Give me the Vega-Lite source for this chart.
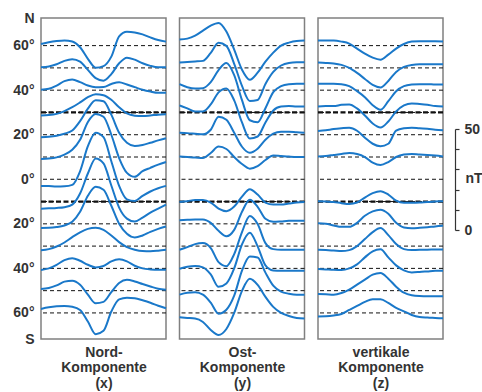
{
"$schema": "https://vega.github.io/schema/vega-lite/v6.json",
"background": "white",
"padding": {"left": 12, "top": 11, "right": 0, "bottom": 0},
"config": {"view": {"stroke": "#808080", "strokeWidth": 1.5}, "font": "Liberation Sans"},
"spacing": 13.5,
"bounds": "flush",
"align": "none",
"datasets": {
"base": [{"lat":60},{"lat":50},{"lat":40},{"lat":30},{"lat":20},{"lat":10},{"lat":0},{"lat":-10},{"lat":-20},{"lat":-30},{"lat":-40},{"lat":-50},{"lat":-60}],
"bar": [{"nT":0},{"nT":50}],
"nord": [
{"lat":60,"h":0,"nT":0.8},{"lat":60,"h":1.5,"nT":1.7},{"lat":60,"h":3,"nT":2.3},{"lat":60,"h":4.5,"nT":2.6},{"lat":60,"h":6,"nT":2.1},{"lat":60,"h":7.5,"nT":-0.8},{"lat":60,"h":9,"nT":-6.6},{"lat":60,"h":10.5,"nT":-11},{"lat":60,"h":12,"nT":-10.2},{"lat":60,"h":13.5,"nT":-5.5},{"lat":60,"h":15,"nT":4.6},{"lat":60,"h":16.5,"nT":6.9},{"lat":60,"h":18,"nT":6.6},{"lat":60,"h":19.5,"nT":5.6},{"lat":60,"h":21,"nT":4.1},{"lat":60,"h":22.5,"nT":2.8},{"lat":60,"h":24,"nT":2.0},
{"lat":50,"h":0,"nT":0.3},{"lat":50,"h":1.5,"nT":0.7},{"lat":50,"h":3,"nT":1.8},{"lat":50,"h":4.5,"nT":3.5},{"lat":50,"h":6,"nT":4.3},{"lat":50,"h":7.5,"nT":3.1},{"lat":50,"h":9,"nT":-1},{"lat":50,"h":10.5,"nT":-5.1},{"lat":50,"h":12,"nT":-6.4},{"lat":50,"h":13.5,"nT":-3.1},{"lat":50,"h":15,"nT":2.3},{"lat":50,"h":16.5,"nT":5.1},{"lat":50,"h":18,"nT":4.1},{"lat":50,"h":19.5,"nT":2.3},{"lat":50,"h":21,"nT":1.0},{"lat":50,"h":22.5,"nT":0.3},{"lat":50,"h":24,"nT":0.3},
{"lat":40,"h":0,"nT":0.2},{"lat":40,"h":1.5,"nT":0.7},{"lat":40,"h":3,"nT":2.3},{"lat":40,"h":4.5,"nT":4.5},{"lat":40,"h":6,"nT":5.3},{"lat":40,"h":7.5,"nT":4},{"lat":40,"h":9,"nT":2.3},{"lat":40,"h":10.5,"nT":1.5},{"lat":40,"h":12,"nT":1.6},{"lat":40,"h":13.5,"nT":3.1},{"lat":40,"h":15,"nT":4},{"lat":40,"h":16.5,"nT":2.8},{"lat":40,"h":18,"nT":1.5},{"lat":40,"h":19.5,"nT":0.2},{"lat":40,"h":21,"nT":-0.7},{"lat":40,"h":22.5,"nT":-1.3},{"lat":40,"h":24,"nT":-1.3},
{"lat":30,"h":0,"nT":-1.5},{"lat":30,"h":1.5,"nT":-1.3},{"lat":30,"h":3,"nT":-0.7},{"lat":30,"h":4.5,"nT":0.7},{"lat":30,"h":6,"nT":2.6},{"lat":30,"h":7.5,"nT":5},{"lat":30,"h":9,"nT":7.6},{"lat":30,"h":10.5,"nT":9.1},{"lat":30,"h":12,"nT":8.6},{"lat":30,"h":13.5,"nT":6.3},{"lat":30,"h":15,"nT":2.6},{"lat":30,"h":16.5,"nT":-0.5},{"lat":30,"h":18,"nT":-1.6},{"lat":30,"h":19.5,"nT":-1.8},{"lat":30,"h":21,"nT":-1.5},{"lat":30,"h":22.5,"nT":-1.1},{"lat":30,"h":24,"nT":-0.9},
{"lat":20,"h":0,"nT":-1.2},{"lat":20,"h":1.5,"nT":-1},{"lat":20,"h":3,"nT":-0.5},{"lat":20,"h":4.5,"nT":0.5},{"lat":20,"h":6,"nT":2.1},{"lat":20,"h":7.5,"nT":6.8},{"lat":20,"h":9,"nT":13},{"lat":20,"h":10.5,"nT":17.2},{"lat":20,"h":12,"nT":16.7},{"lat":20,"h":13.5,"nT":10},{"lat":20,"h":15,"nT":1},{"lat":20,"h":16.5,"nT":-4},{"lat":20,"h":18,"nT":-5.6},{"lat":20,"h":19.5,"nT":-5.1},{"lat":20,"h":21,"nT":-4},{"lat":20,"h":22.5,"nT":-2.8},{"lat":20,"h":24,"nT":-1.8},
{"lat":10,"h":0,"nT":-1},{"lat":10,"h":1.5,"nT":-0.8},{"lat":10,"h":3,"nT":-0.2},{"lat":10,"h":4.5,"nT":1.2},{"lat":10,"h":6,"nT":3.6},{"lat":10,"h":7.5,"nT":8.6},{"lat":10,"h":9,"nT":17.5},{"lat":10,"h":10.5,"nT":21.5},{"lat":10,"h":12,"nT":20.1},{"lat":10,"h":13.5,"nT":11.1},{"lat":10,"h":15,"nT":-0.5},{"lat":10,"h":16.5,"nT":-7.9},{"lat":10,"h":18,"nT":-9.9},{"lat":10,"h":19.5,"nT":-7.1},{"lat":10,"h":21,"nT":-5.4},{"lat":10,"h":22.5,"nT":-3.8},{"lat":10,"h":24,"nT":-2.5},
{"lat":0,"h":0,"nT":-3.3},{"lat":0,"h":1.5,"nT":-3.4},{"lat":0,"h":3,"nT":-3.6},{"lat":0,"h":4.5,"nT":-3.5},{"lat":0,"h":6,"nT":-2.8},{"lat":0,"h":7.5,"nT":4},{"lat":0,"h":9,"nT":16.5},{"lat":0,"h":10.5,"nT":23.2},{"lat":0,"h":12,"nT":21},{"lat":0,"h":13.5,"nT":9},{"lat":0,"h":15,"nT":-3.3},{"lat":0,"h":16.5,"nT":-10},{"lat":0,"h":18,"nT":-10.8},{"lat":0,"h":19.5,"nT":-8.3},{"lat":0,"h":21,"nT":-6.1},{"lat":0,"h":22.5,"nT":-4.5},{"lat":0,"h":24,"nT":-3.3},
{"lat":-10,"h":0,"nT":-3.6},{"lat":-10,"h":1.5,"nT":-3.4},{"lat":-10,"h":3,"nT":-3.2},{"lat":-10,"h":4.5,"nT":-2.8},{"lat":-10,"h":6,"nT":-1.5},{"lat":-10,"h":7.5,"nT":4},{"lat":-10,"h":9,"nT":14},{"lat":-10,"h":10.5,"nT":21.5},{"lat":-10,"h":12,"nT":19},{"lat":-10,"h":13.5,"nT":8},{"lat":-10,"h":15,"nT":-3},{"lat":-10,"h":16.5,"nT":-8.5},{"lat":-10,"h":18,"nT":-10},{"lat":-10,"h":19.5,"nT":-8},{"lat":-10,"h":21,"nT":-5.5},{"lat":-10,"h":22.5,"nT":-3.5},{"lat":-10,"h":24,"nT":-1.5},
{"lat":-20,"h":0,"nT":-2.1},{"lat":-20,"h":1.5,"nT":-2},{"lat":-20,"h":3,"nT":-1.6},{"lat":-20,"h":4.5,"nT":-0.8},{"lat":-20,"h":6,"nT":1},{"lat":-20,"h":7.5,"nT":6},{"lat":-20,"h":9,"nT":14},{"lat":-20,"h":10.5,"nT":18.5},{"lat":-20,"h":12,"nT":17},{"lat":-20,"h":13.5,"nT":9},{"lat":-20,"h":15,"nT":0},{"lat":-20,"h":16.5,"nT":-5},{"lat":-20,"h":18,"nT":-6.8},{"lat":-20,"h":19.5,"nT":-5.8},{"lat":-20,"h":21,"nT":-4},{"lat":-20,"h":22.5,"nT":-2.5},{"lat":-20,"h":24,"nT":-1.3},
{"lat":-30,"h":0,"nT":-2.1},{"lat":-30,"h":1.5,"nT":-1.5},{"lat":-30,"h":3,"nT":-0.2},{"lat":-30,"h":4.5,"nT":1.8},{"lat":-30,"h":6,"nT":4.5},{"lat":-30,"h":7.5,"nT":6.9},{"lat":-30,"h":9,"nT":8.6},{"lat":-30,"h":10.5,"nT":9.1},{"lat":-30,"h":12,"nT":8.1},{"lat":-30,"h":13.5,"nT":5.3},{"lat":-30,"h":15,"nT":2},{"lat":-30,"h":16.5,"nT":-0.5},{"lat":-30,"h":18,"nT":-1.8},{"lat":-30,"h":19.5,"nT":-2.5},{"lat":-30,"h":21,"nT":-2.6},{"lat":-30,"h":22.5,"nT":-2.3},{"lat":-30,"h":24,"nT":-1.8},
{"lat":-40,"h":0,"nT":-0.8},{"lat":-40,"h":1.5,"nT":0},{"lat":-40,"h":3,"nT":1.8},{"lat":-40,"h":4.5,"nT":4.1},{"lat":-40,"h":6,"nT":5.1},{"lat":-40,"h":7.5,"nT":3.8},{"lat":-40,"h":9,"nT":1.8},{"lat":-40,"h":10.5,"nT":0.5},{"lat":-40,"h":12,"nT":1.2},{"lat":-40,"h":13.5,"nT":3.5},{"lat":-40,"h":15,"nT":4.5},{"lat":-40,"h":16.5,"nT":3.5},{"lat":-40,"h":18,"nT":1.3},{"lat":-40,"h":19.5,"nT":0},{"lat":-40,"h":21,"nT":-0.5},{"lat":-40,"h":22.5,"nT":-0.7},{"lat":-40,"h":24,"nT":-0.7},
{"lat":-50,"h":0,"nT":0.8},{"lat":-50,"h":1.5,"nT":1.3},{"lat":-50,"h":3,"nT":2.6},{"lat":-50,"h":4.5,"nT":4.5},{"lat":-50,"h":6,"nT":5},{"lat":-50,"h":7.5,"nT":3},{"lat":-50,"h":9,"nT":-2},{"lat":-50,"h":10.5,"nT":-6.3},{"lat":-50,"h":12,"nT":-5.6},{"lat":-50,"h":13.5,"nT":-0.7},{"lat":-50,"h":15,"nT":3.8},{"lat":-50,"h":16.5,"nT":5.4},{"lat":-50,"h":18,"nT":4.6},{"lat":-50,"h":19.5,"nT":3.3},{"lat":-50,"h":21,"nT":2.1},{"lat":-50,"h":22.5,"nT":1},{"lat":-50,"h":24,"nT":0.5},
{"lat":-60,"h":0,"nT":2},{"lat":-60,"h":1.5,"nT":2.8},{"lat":-60,"h":3,"nT":3.3},{"lat":-60,"h":4.5,"nT":3.5},{"lat":-60,"h":6,"nT":3.1},{"lat":-60,"h":7.5,"nT":1.5},{"lat":-60,"h":9,"nT":-4.3},{"lat":-60,"h":10.5,"nT":-10.6},{"lat":-60,"h":12,"nT":-8.9},{"lat":-60,"h":13.5,"nT":0.7},{"lat":-60,"h":15,"nT":6.8},{"lat":-60,"h":16.5,"nT":7.6},{"lat":-60,"h":18,"nT":7.3},{"lat":-60,"h":19.5,"nT":6.3},{"lat":-60,"h":21,"nT":5.1},{"lat":-60,"h":22.5,"nT":3.6},{"lat":-60,"h":24,"nT":2.3}
],
"ost": [
{"lat":60,"h":0,"nT":3},{"lat":60,"h":1.5,"nT":3.5},{"lat":60,"h":3,"nT":5},{"lat":60,"h":4.5,"nT":7.5},{"lat":60,"h":6,"nT":10},{"lat":60,"h":7.5,"nT":11.3},{"lat":60,"h":9,"nT":7},{"lat":60,"h":10.5,"nT":-2},{"lat":60,"h":12,"nT":-12},{"lat":60,"h":13.5,"nT":-17},{"lat":60,"h":15,"nT":-13.5},{"lat":60,"h":16.5,"nT":-8},{"lat":60,"h":18,"nT":-3.5},{"lat":60,"h":19.5,"nT":0},{"lat":60,"h":21,"nT":1.5},{"lat":60,"h":22.5,"nT":2.3},{"lat":60,"h":24,"nT":2.5},
{"lat":50,"h":0,"nT":2.7},{"lat":50,"h":1.5,"nT":3},{"lat":50,"h":3,"nT":3.2},{"lat":50,"h":4.5,"nT":3.5},{"lat":50,"h":6,"nT":7.5},{"lat":50,"h":7.5,"nT":12.5},{"lat":50,"h":9,"nT":11},{"lat":50,"h":10.5,"nT":2},{"lat":50,"h":12,"nT":-9},{"lat":50,"h":13.5,"nT":-16.5},{"lat":50,"h":15,"nT":-16},{"lat":50,"h":16.5,"nT":-8},{"lat":50,"h":18,"nT":-2},{"lat":50,"h":19.5,"nT":1.2},{"lat":50,"h":21,"nT":2.5},{"lat":50,"h":22.5,"nT":2.8},{"lat":50,"h":24,"nT":2.8},
{"lat":40,"h":0,"nT":3},{"lat":40,"h":1.5,"nT":1.5},{"lat":40,"h":3,"nT":0.8},{"lat":40,"h":4.5,"nT":1},{"lat":40,"h":6,"nT":4},{"lat":40,"h":7.5,"nT":10},{"lat":40,"h":9,"nT":13.5},{"lat":40,"h":10.5,"nT":7.5},{"lat":40,"h":12,"nT":-5},{"lat":40,"h":13.5,"nT":-15},{"lat":40,"h":15,"nT":-16},{"lat":40,"h":16.5,"nT":-9},{"lat":40,"h":18,"nT":-1},{"lat":40,"h":19.5,"nT":2},{"lat":40,"h":21,"nT":3},{"lat":40,"h":22.5,"nT":3.2},{"lat":40,"h":24,"nT":3.2},
{"lat":30,"h":0,"nT":3.5},{"lat":30,"h":1.5,"nT":2},{"lat":30,"h":3,"nT":0.5},{"lat":30,"h":4.5,"nT":0.5},{"lat":30,"h":6,"nT":4},{"lat":30,"h":7.5,"nT":10},{"lat":30,"h":9,"nT":12},{"lat":30,"h":10.5,"nT":6},{"lat":30,"h":12,"nT":-5},{"lat":30,"h":13.5,"nT":-13},{"lat":30,"h":15,"nT":-12},{"lat":30,"h":16.5,"nT":-5},{"lat":30,"h":18,"nT":1},{"lat":30,"h":19.5,"nT":3},{"lat":30,"h":21,"nT":3.2},{"lat":30,"h":22.5,"nT":3},{"lat":30,"h":24,"nT":3},
{"lat":20,"h":0,"nT":1},{"lat":20,"h":1.5,"nT":0.8},{"lat":20,"h":3,"nT":0.5},{"lat":20,"h":4.5,"nT":0.2},{"lat":20,"h":6,"nT":2.5},{"lat":20,"h":7.5,"nT":9},{"lat":20,"h":9,"nT":7.5},{"lat":20,"h":10.5,"nT":1},{"lat":20,"h":12,"nT":-6},{"lat":20,"h":13.5,"nT":-9},{"lat":20,"h":15,"nT":-7},{"lat":20,"h":16.5,"nT":-2.5},{"lat":20,"h":18,"nT":0.5},{"lat":20,"h":19.5,"nT":1.5},{"lat":20,"h":21,"nT":1.5},{"lat":20,"h":22.5,"nT":1.2},{"lat":20,"h":24,"nT":1},
{"lat":10,"h":0,"nT":0.2},{"lat":10,"h":1.5,"nT":0},{"lat":10,"h":3,"nT":-0.2},{"lat":10,"h":4.5,"nT":-0.5},{"lat":10,"h":6,"nT":2},{"lat":10,"h":7.5,"nT":5.2},{"lat":10,"h":9,"nT":4},{"lat":10,"h":10.5,"nT":0},{"lat":10,"h":12,"nT":-3.5},{"lat":10,"h":13.5,"nT":-5.8},{"lat":10,"h":15,"nT":-4.5},{"lat":10,"h":16.5,"nT":-1.5},{"lat":10,"h":18,"nT":0.8},{"lat":10,"h":19.5,"nT":0.5},{"lat":10,"h":21,"nT":0.2},{"lat":10,"h":22.5,"nT":0},{"lat":10,"h":24,"nT":0},
{"lat":-10,"h":0,"nT":-0.2},{"lat":-10,"h":1.5,"nT":0.2},{"lat":-10,"h":3,"nT":0.8},{"lat":-10,"h":4.5,"nT":0.8},{"lat":-10,"h":6,"nT":-0.5},{"lat":-10,"h":7.5,"nT":-3.5},{"lat":-10,"h":9,"nT":-4.8},{"lat":-10,"h":10.5,"nT":-2.5},{"lat":-10,"h":12,"nT":2.5},{"lat":-10,"h":13.5,"nT":6.2},{"lat":-10,"h":15,"nT":3.5},{"lat":-10,"h":16.5,"nT":-0.5},{"lat":-10,"h":18,"nT":-1.5},{"lat":-10,"h":19.5,"nT":-1.5},{"lat":-10,"h":21,"nT":-1},{"lat":-10,"h":22.5,"nT":-0.5},{"lat":-10,"h":24,"nT":-0.2},
{"lat":-20,"h":0,"nT":1.8},{"lat":-20,"h":1.5,"nT":2},{"lat":-20,"h":3,"nT":2.2},{"lat":-20,"h":4.5,"nT":2.2},{"lat":-20,"h":6,"nT":0.5},{"lat":-20,"h":7.5,"nT":-3.5},{"lat":-20,"h":9,"nT":-6.2},{"lat":-20,"h":10.5,"nT":-3},{"lat":-20,"h":12,"nT":6},{"lat":-20,"h":13.5,"nT":12},{"lat":-20,"h":15,"nT":8.5},{"lat":-20,"h":16.5,"nT":2.5},{"lat":-20,"h":18,"nT":1},{"lat":-20,"h":19.5,"nT":1.2},{"lat":-20,"h":21,"nT":1.5},{"lat":-20,"h":22.5,"nT":1.5},{"lat":-20,"h":24,"nT":1.5},
{"lat":-30,"h":0,"nT":-1.8},{"lat":-30,"h":1.5,"nT":-0.5},{"lat":-30,"h":3,"nT":1},{"lat":-30,"h":4.5,"nT":1.5},{"lat":-30,"h":6,"nT":-1},{"lat":-30,"h":7.5,"nT":-8},{"lat":-30,"h":9,"nT":-10},{"lat":-30,"h":10.5,"nT":-4},{"lat":-30,"h":12,"nT":7},{"lat":-30,"h":13.5,"nT":15},{"lat":-30,"h":15,"nT":11},{"lat":-30,"h":16.5,"nT":1.5},{"lat":-30,"h":18,"nT":-1.5},{"lat":-30,"h":19.5,"nT":-1.8},{"lat":-30,"h":21,"nT":-1.8},{"lat":-30,"h":22.5,"nT":-1.8},{"lat":-30,"h":24,"nT":-1.8},
{"lat":-40,"h":0,"nT":-0.2},{"lat":-40,"h":1.5,"nT":0.8},{"lat":-40,"h":3,"nT":1.2},{"lat":-40,"h":4.5,"nT":0.5},{"lat":-40,"h":6,"nT":-3},{"lat":-40,"h":7.5,"nT":-9.2},{"lat":-40,"h":9,"nT":-7.5},{"lat":-40,"h":10.5,"nT":0},{"lat":-40,"h":12,"nT":12},{"lat":-40,"h":13.5,"nT":17.8},{"lat":-40,"h":15,"nT":11},{"lat":-40,"h":16.5,"nT":1.5},{"lat":-40,"h":18,"nT":-1},{"lat":-40,"h":19.5,"nT":-1.2},{"lat":-40,"h":21,"nT":-1.2},{"lat":-40,"h":22.5,"nT":-1.2},{"lat":-40,"h":24,"nT":-1.2},
{"lat":-50,"h":0,"nT":-2},{"lat":-50,"h":1.5,"nT":-1},{"lat":-50,"h":3,"nT":-0.8},{"lat":-50,"h":4.5,"nT":-2},{"lat":-50,"h":6,"nT":-6},{"lat":-50,"h":7.5,"nT":-11.5},{"lat":-50,"h":9,"nT":-9.5},{"lat":-50,"h":10.5,"nT":-2.5},{"lat":-50,"h":12,"nT":10},{"lat":-50,"h":13.5,"nT":17},{"lat":-50,"h":15,"nT":16.5},{"lat":-50,"h":16.5,"nT":9},{"lat":-50,"h":18,"nT":2.5},{"lat":-50,"h":19.5,"nT":-0.5},{"lat":-50,"h":21,"nT":-1.5},{"lat":-50,"h":22.5,"nT":-2},{"lat":-50,"h":24,"nT":-2},
{"lat":-60,"h":0,"nT":-2.2},{"lat":-60,"h":1.5,"nT":-2.5},{"lat":-60,"h":3,"nT":-2.8},{"lat":-60,"h":4.5,"nT":-4.5},{"lat":-60,"h":6,"nT":-8.5},{"lat":-60,"h":7.5,"nT":-11},{"lat":-60,"h":9,"nT":-8},{"lat":-60,"h":10.5,"nT":0},{"lat":-60,"h":12,"nT":11},{"lat":-60,"h":13.5,"nT":17},{"lat":-60,"h":15,"nT":14},{"lat":-60,"h":16.5,"nT":8},{"lat":-60,"h":18,"nT":3},{"lat":-60,"h":19.5,"nT":0},{"lat":-60,"h":21,"nT":-1.5},{"lat":-60,"h":22.5,"nT":-2.5},{"lat":-60,"h":24,"nT":-2.8}
],
"vert": [
{"lat":60,"h":0,"nT":2.5},{"lat":60,"h":1.5,"nT":2.5},{"lat":60,"h":3,"nT":2.5},{"lat":60,"h":4.5,"nT":2},{"lat":60,"h":6,"nT":1},{"lat":60,"h":7.5,"nT":-1.5},{"lat":60,"h":9,"nT":-4},{"lat":60,"h":10.5,"nT":-6},{"lat":60,"h":12,"nT":-7},{"lat":60,"h":13.5,"nT":-4.5},{"lat":60,"h":15,"nT":-1.5},{"lat":60,"h":16.5,"nT":0.8},{"lat":60,"h":18,"nT":2},{"lat":60,"h":19.5,"nT":2.2},{"lat":60,"h":21,"nT":2.2},{"lat":60,"h":22.5,"nT":2.2},{"lat":60,"h":24,"nT":2},
{"lat":50,"h":0,"nT":2.7},{"lat":50,"h":1.5,"nT":2.5},{"lat":50,"h":3,"nT":2.2},{"lat":50,"h":4.5,"nT":1.5},{"lat":50,"h":6,"nT":0},{"lat":50,"h":7.5,"nT":-2.5},{"lat":50,"h":9,"nT":-5.5},{"lat":50,"h":10.5,"nT":-8.5},{"lat":50,"h":12,"nT":-9.8},{"lat":50,"h":13.5,"nT":-6.5},{"lat":50,"h":15,"nT":-2},{"lat":50,"h":16.5,"nT":0.5},{"lat":50,"h":18,"nT":1.5},{"lat":50,"h":19.5,"nT":1.8},{"lat":50,"h":21,"nT":1.8},{"lat":50,"h":22.5,"nT":1.8},{"lat":50,"h":24,"nT":1.8},
{"lat":40,"h":0,"nT":3.2},{"lat":40,"h":1.5,"nT":3.2},{"lat":40,"h":3,"nT":3.2},{"lat":40,"h":4.5,"nT":3},{"lat":40,"h":6,"nT":2},{"lat":40,"h":7.5,"nT":-0.5},{"lat":40,"h":9,"nT":-3.5},{"lat":40,"h":10.5,"nT":-7.5},{"lat":40,"h":12,"nT":-9.8},{"lat":40,"h":13.5,"nT":-5.5},{"lat":40,"h":15,"nT":-0.5},{"lat":40,"h":16.5,"nT":2},{"lat":40,"h":18,"nT":2.8},{"lat":40,"h":19.5,"nT":3},{"lat":40,"h":21,"nT":3},{"lat":40,"h":22.5,"nT":2.8},{"lat":40,"h":24,"nT":2.8},
{"lat":30,"h":0,"nT":3},{"lat":30,"h":1.5,"nT":3.2},{"lat":30,"h":3,"nT":3.2},{"lat":30,"h":4.5,"nT":3.8},{"lat":30,"h":6,"nT":4},{"lat":30,"h":7.5,"nT":2},{"lat":30,"h":9,"nT":-1.5},{"lat":30,"h":10.5,"nT":-5.5},{"lat":30,"h":12,"nT":-7.5},{"lat":30,"h":13.5,"nT":-4.5},{"lat":30,"h":15,"nT":0.5},{"lat":30,"h":16.5,"nT":3.5},{"lat":30,"h":18,"nT":4.5},{"lat":30,"h":19.5,"nT":4.2},{"lat":30,"h":21,"nT":3.8},{"lat":30,"h":22.5,"nT":3.2},{"lat":30,"h":24,"nT":3},
{"lat":20,"h":0,"nT":1.8},{"lat":20,"h":1.5,"nT":2.2},{"lat":20,"h":3,"nT":2.8},{"lat":20,"h":4.5,"nT":3.2},{"lat":20,"h":6,"nT":3.5},{"lat":20,"h":7.5,"nT":2},{"lat":20,"h":9,"nT":-1.5},{"lat":20,"h":10.5,"nT":-4.5},{"lat":20,"h":12,"nT":-5.7},{"lat":20,"h":13.5,"nT":-4.5},{"lat":20,"h":15,"nT":2},{"lat":20,"h":16.5,"nT":3.2},{"lat":20,"h":18,"nT":3.5},{"lat":20,"h":19.5,"nT":3.2},{"lat":20,"h":21,"nT":3},{"lat":20,"h":22.5,"nT":2.5},{"lat":20,"h":24,"nT":2.2},
{"lat":10,"h":0,"nT":0.3},{"lat":10,"h":1.5,"nT":0.5},{"lat":10,"h":3,"nT":1},{"lat":10,"h":4.5,"nT":1.5},{"lat":10,"h":6,"nT":2},{"lat":10,"h":7.5,"nT":1.5},{"lat":10,"h":9,"nT":0},{"lat":10,"h":10.5,"nT":-2.8},{"lat":10,"h":12,"nT":-4},{"lat":10,"h":13.5,"nT":-2.5},{"lat":10,"h":15,"nT":0},{"lat":10,"h":16.5,"nT":1.2},{"lat":10,"h":18,"nT":1.5},{"lat":10,"h":19.5,"nT":1.2},{"lat":10,"h":21,"nT":1},{"lat":10,"h":22.5,"nT":0.7},{"lat":10,"h":24,"nT":0.3},
{"lat":-10,"h":0,"nT":0.2},{"lat":-10,"h":1.5,"nT":0},{"lat":-10,"h":3,"nT":-0.2},{"lat":-10,"h":4.5,"nT":-0.8},{"lat":-10,"h":6,"nT":-1.2},{"lat":-10,"h":7.5,"nT":-0.5},{"lat":-10,"h":9,"nT":2},{"lat":-10,"h":10.5,"nT":4.2},{"lat":-10,"h":12,"nT":5.2},{"lat":-10,"h":13.5,"nT":3.5},{"lat":-10,"h":15,"nT":0.5},{"lat":-10,"h":16.5,"nT":-0.6},{"lat":-10,"h":18,"nT":-0.6},{"lat":-10,"h":19.5,"nT":-0.5},{"lat":-10,"h":21,"nT":-0.2},{"lat":-10,"h":22.5,"nT":0},{"lat":-10,"h":24,"nT":0.2},
{"lat":-20,"h":0,"nT":0.3},{"lat":-20,"h":1.5,"nT":0},{"lat":-20,"h":3,"nT":-0.8},{"lat":-20,"h":4.5,"nT":-1.5},{"lat":-20,"h":6,"nT":-1.5},{"lat":-20,"h":7.5,"nT":0.5},{"lat":-20,"h":9,"nT":4},{"lat":-20,"h":10.5,"nT":6.2},{"lat":-20,"h":12,"nT":7},{"lat":-20,"h":13.5,"nT":5},{"lat":-20,"h":15,"nT":0.5},{"lat":-20,"h":16.5,"nT":-1.8},{"lat":-20,"h":18,"nT":-2.2},{"lat":-20,"h":19.5,"nT":-2},{"lat":-20,"h":21,"nT":-1.7},{"lat":-20,"h":22.5,"nT":-1.3},{"lat":-20,"h":24,"nT":-1},
{"lat":-30,"h":0,"nT":-1.8},{"lat":-30,"h":1.5,"nT":-2},{"lat":-30,"h":3,"nT":-2.2},{"lat":-30,"h":4.5,"nT":-2.5},{"lat":-30,"h":6,"nT":-2},{"lat":-30,"h":7.5,"nT":0},{"lat":-30,"h":9,"nT":3.5},{"lat":-30,"h":10.5,"nT":7},{"lat":-30,"h":12,"nT":9},{"lat":-30,"h":13.5,"nT":5.5},{"lat":-30,"h":15,"nT":1},{"lat":-30,"h":16.5,"nT":-1.5},{"lat":-30,"h":18,"nT":-2},{"lat":-30,"h":19.5,"nT":-1.8},{"lat":-30,"h":21,"nT":-1.8},{"lat":-30,"h":22.5,"nT":-1.7},{"lat":-30,"h":24,"nT":-1.7},
{"lat":-40,"h":0,"nT":-0.3},{"lat":-40,"h":1.5,"nT":-0.5},{"lat":-40,"h":3,"nT":-0.7},{"lat":-40,"h":4.5,"nT":-0.8},{"lat":-40,"h":6,"nT":0},{"lat":-40,"h":7.5,"nT":2},{"lat":-40,"h":9,"nT":5.5},{"lat":-40,"h":10.5,"nT":8.5},{"lat":-40,"h":12,"nT":9.5},{"lat":-40,"h":13.5,"nT":5.5},{"lat":-40,"h":15,"nT":1.5},{"lat":-40,"h":16.5,"nT":-1},{"lat":-40,"h":18,"nT":-2},{"lat":-40,"h":19.5,"nT":-1.8},{"lat":-40,"h":21,"nT":-1.5},{"lat":-40,"h":22.5,"nT":-1.2},{"lat":-40,"h":24,"nT":-1.2},
{"lat":-50,"h":0,"nT":-1.7},{"lat":-50,"h":1.5,"nT":-1.8},{"lat":-50,"h":3,"nT":-2},{"lat":-50,"h":4.5,"nT":-1.2},{"lat":-50,"h":6,"nT":0.5},{"lat":-50,"h":7.5,"nT":3},{"lat":-50,"h":9,"nT":5.5},{"lat":-50,"h":10.5,"nT":8},{"lat":-50,"h":12,"nT":8.8},{"lat":-50,"h":13.5,"nT":6},{"lat":-50,"h":15,"nT":2},{"lat":-50,"h":16.5,"nT":-1},{"lat":-50,"h":18,"nT":-2.3},{"lat":-50,"h":19.5,"nT":-2.7},{"lat":-50,"h":21,"nT":-2.8},{"lat":-50,"h":22.5,"nT":-2.8},{"lat":-50,"h":24,"nT":-2.8},
{"lat":-60,"h":0,"nT":-1.8},{"lat":-60,"h":1.5,"nT":-1.7},{"lat":-60,"h":3,"nT":-1.3},{"lat":-60,"h":4.5,"nT":-0.5},{"lat":-60,"h":6,"nT":1.5},{"lat":-60,"h":7.5,"nT":3.5},{"lat":-60,"h":9,"nT":5.5},{"lat":-60,"h":10.5,"nT":6.8},{"lat":-60,"h":12,"nT":6.8},{"lat":-60,"h":13.5,"nT":5},{"lat":-60,"h":15,"nT":2.5},{"lat":-60,"h":16.5,"nT":0.8},{"lat":-60,"h":18,"nT":-1},{"lat":-60,"h":19.5,"nT":-2},{"lat":-60,"h":21,"nT":-2.3},{"lat":-60,"h":22.5,"nT":-2.5},{"lat":-60,"h":24,"nT":-2.7}
]
},
"hconcat": [
{
"width": 125, "height": 321,
"layer": [
{"data": {"name": "base"}, "mark": {"type": "rule", "color": "#111", "strokeWidth": 1, "strokeDash": [4, 3]},
 "encoding": {"y": {"field": "lat", "type": "quantitative", "title": null, "scale": {"domain": [-71.7, 72.4], "nice": false, "zero": false},
  "axis": {"values": [72, 60, 40, 20, 0, -20, -40, -60, -71.7], "labelExpr": "datum.value > 70 ? 'N' : (datum.value < -70 ? 'S' : format(abs(datum.value), 'd') + '°')", "ticks": false, "domain": false, "grid": false, "labelPadding": 7, "labelFontSize": 14, "labelFontWeight": "bold", "labelColor": "#333"}}}},
{"data": {"name": "base"}, "transform": [{"filter": "datum.lat == 30 || datum.lat == -10"}], "mark": {"type": "rule", "color": "#111", "strokeWidth": 2.2, "strokeDash": [5, 2.5]},
 "encoding": {"y": {"field": "lat", "type": "quantitative", "title": null}}},
{"data": {"name": "nord"}, "transform": [{"calculate": "datum.lat + datum.nT * 0.9", "as": "pos"}], "mark": {"type": "line", "color": "#1a78c9", "strokeWidth": 2, "interpolate": "monotone"},
 "encoding": {"x": {"field": "h", "type": "quantitative", "scale": {"domain": [0, 24], "nice": false, "zero": false}, "axis": {"labels": false, "ticks": false, "domain": false, "grid": false, "title": ["Nord-", "Komponente", "(x)"], "titlePadding": 6, "titleFontSize": 14, "titleFontWeight": "bold", "titleColor": "#333", "titleLineHeight": 15.5}},
  "y": {"field": "pos", "type": "quantitative", "title": null}, "detail": {"field": "lat", "type": "nominal"}}}
]
},
{
"width": 125, "height": 321,
"layer": [
{"data": {"name": "base"}, "mark": {"type": "rule", "color": "#111", "strokeWidth": 1, "strokeDash": [4, 3]},
 "encoding": {"y": {"field": "lat", "type": "quantitative", "scale": {"domain": [-71.7, 72.4], "nice": false, "zero": false}, "axis": null}}},
{"data": {"name": "base"}, "transform": [{"filter": "datum.lat == 30 || datum.lat == -10"}], "mark": {"type": "rule", "color": "#111", "strokeWidth": 2.2, "strokeDash": [5, 2.5]},
 "encoding": {"y": {"field": "lat", "type": "quantitative", "axis": null}}},
{"data": {"name": "ost"}, "transform": [{"calculate": "datum.lat + datum.nT * 0.9", "as": "pos"}], "mark": {"type": "line", "color": "#1a78c9", "strokeWidth": 2, "interpolate": "monotone"},
 "encoding": {"x": {"field": "h", "type": "quantitative", "scale": {"domain": [0, 24], "nice": false, "zero": false}, "axis": {"labels": false, "ticks": false, "domain": false, "grid": false, "title": ["Ost-", "Komponente", "(y)"], "titlePadding": 6, "titleFontSize": 14, "titleFontWeight": "bold", "titleColor": "#333", "titleLineHeight": 15.5}},
  "y": {"field": "pos", "type": "quantitative", "axis": null}, "detail": {"field": "lat", "type": "nominal"}}}
]
},
{
"width": 125, "height": 321,
"resolve": {"scale": {"y": "independent"}},
"layer": [
{"layer": [
{"data": {"name": "base"}, "mark": {"type": "rule", "color": "#111", "strokeWidth": 1, "strokeDash": [4, 3]},
 "encoding": {"y": {"field": "lat", "type": "quantitative", "scale": {"domain": [-71.7, 72.4], "nice": false, "zero": false}, "axis": null}}},
{"data": {"name": "base"}, "transform": [{"filter": "datum.lat == 30 || datum.lat == -10"}], "mark": {"type": "rule", "color": "#111", "strokeWidth": 2.2, "strokeDash": [5, 2.5]},
 "encoding": {"y": {"field": "lat", "type": "quantitative", "axis": null}}},
{"data": {"name": "vert"}, "transform": [{"calculate": "datum.lat + datum.nT * 0.9", "as": "pos"}], "mark": {"type": "line", "color": "#1a78c9", "strokeWidth": 2, "interpolate": "monotone"},
 "encoding": {"x": {"field": "h", "type": "quantitative", "scale": {"domain": [0, 24], "nice": false, "zero": false}, "axis": {"labels": false, "ticks": false, "domain": false, "grid": false, "title": ["vertikale", "Komponente", "(z)"], "titlePadding": 6, "titleFontSize": 14, "titleFontWeight": "bold", "titleColor": "#333", "titleLineHeight": 15.5}},
  "y": {"field": "pos", "type": "quantitative", "axis": null}, "detail": {"field": "lat", "type": "nominal"}}}
]},
{"data": {"name": "bar"}, "mark": {"type": "point", "opacity": 0},
 "encoding": {"y": {"field": "nT", "type": "quantitative", "scale": {"domain": [0, 50], "range": [212, 111], "nice": false, "zero": false},
  "axis": {"orient": "right", "offset": 12, "values": [0, 10, 20, 30, 40, 50], "labelExpr": "datum.value == 0 || datum.value == 50 ? datum.label : ''", "domainColor": "#333", "domainWidth": 1.2, "tickColor": "#333", "tickWidth": 1.2, "tickSize": 4, "labelPadding": 5, "labelFontSize": 14, "labelFontWeight": "bold", "labelColor": "#333", "grid": false,
   "title": "nT", "titleAngle": 0, "titleAlign": "left", "titleBaseline": "middle", "titleX": 10, "titleY": 160, "titleFontSize": 14, "titleFontWeight": "bold", "titleColor": "#333"}}}}
]
}
]
}
